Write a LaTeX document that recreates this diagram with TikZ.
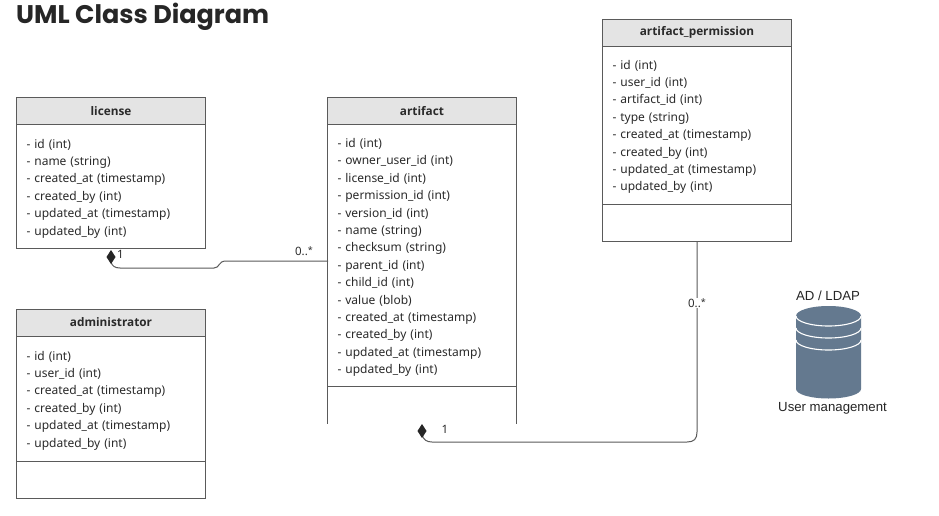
\documentclass[tikz,border=0pt]{standalone}
\usepackage{fontspec}
\setmainfont{Noto Sans}
\newfontfamily\titlefont{Poppins}
\newfontfamily\headfont{Open Sans}
\newfontfamily\arialfont{Liberation Sans}
\usetikzlibrary{arrows.meta,positioning}
\definecolor{linegray}{HTML}{5A5A5A}
\definecolor{headgray}{HTML}{E4E4E4}
\definecolor{dbblue}{HTML}{64798F}
\definecolor{inkdark}{HTML}{2A2A2A}
\newcommand{\mstar}{\raisebox{1.5pt}{\fontsize{9}{9}\selectfont *}}
\newcommand{\topstrut}{\rule{0pt}{13pt}}
\tikzset{
  x=1pt,y=-1pt,
  every node/.style={text=inkdark},
  cellbase/.style={draw=linegray,line width=0.9pt,minimum width=189pt,inner sep=0pt,outer sep=0pt},
  classhead/.style={cellbase,fill=headgray,minimum height=27pt,font=\fontsize{11.8}{15}\headfont\bfseries,anchor=north west},
  classbody/.style={cellbase,anchor=north,text width=169pt,align=left,font=\fontsize{12}{17.4}\selectfont},
  classempty/.style={cellbase,anchor=north},
  assoc/.style={draw=linegray,line width=1pt},
  comp/.style={assoc,{Diamond[length=14pt,width=9pt,fill=black!85,color=black!85]}-},
  mult/.style={font=\fontsize{11.5}{14}\selectfont,inner sep=1pt},
  dblabel/.style={font=\fontsize{13.2}{15}\arialfont,text=black!85},
}
\begin{document}
\begin{tikzpicture}
\useasboundingbox (0,0) rectangle (939,516);
\fill[white] (0,0) rectangle (939,516);

\node[anchor=west,font=\fontsize{25.5}{30}\titlefont\bfseries,text=black!85,inner sep=0pt] (title) at (16,17) {UML Class Diagram};

% license
\node[classhead] (lh) at (16.5,97.5) {license};
\node[classbody,minimum height=124pt] (lb) at (lh.south) {\topstrut- id (int)\\- name (string)\\- created\_at (timestamp)\\- created\_by (int)\\- updated\_at (timestamp)\\- updated\_by (int)};

% administrator
\node[classhead] (adh) at (16.5,309) {administrator};
\node[classbody,minimum height=125pt] (adb) at (adh.south) {\topstrut- id (int)\\- user\_id (int)\\- created\_at (timestamp)\\- created\_by (int)\\- updated\_at (timestamp)\\- updated\_by (int)};
\node[classempty,minimum height=37pt] (ade) at (adb.south) {};

% artifact
\node[classhead] (ah) at (327.5,97.5) {artifact};
\node[classbody,minimum height=262pt] (ab) at (ah.south) {\topstrut- id (int)\\- owner\_user\_id (int)\\- license\_id (int)\\- permission\_id (int)\\- version\_id (int)\\- name (string)\\- checksum (string)\\- parent\_id (int)\\- child\_id (int)\\- value (blob)\\- created\_at (timestamp)\\- created\_by (int)\\- updated\_at (timestamp)\\- updated\_by (int)};
\coordinate (aL) at (327.5,424);
\coordinate (aR) at (516.5,424);
\draw[draw=linegray,line width=0.9pt] (ab.south west) -- (aL) (ab.south east) -- (aR);

% artifact_permission
\node[classhead] (ph) at (602.5,19) {artifact\_permission};
\node[classbody,minimum height=158pt] (pb) at (ph.south) {\topstrut- id (int)\\- user\_id (int)\\- artifact\_id (int)\\- type (string)\\- created\_at (timestamp)\\- created\_by (int)\\- updated\_at (timestamp)\\- updated\_by (int)};
\node[classempty,minimum height=37pt] (pe) at (pb.south) {};

% connectors
\coordinate (licdia) at (111,250);
\coordinate (artin) at (328,261);
\draw[comp] (licdia) -- (111,262) .. controls (112,266) and (115,268) .. (120,268) -- (214,268) .. controls (220,268) and (218,261) .. (226,261) -- (artin);
\node[mult,fill=white,anchor=west] (m1) at (116,254) {1};
\node[mult,anchor=center] (m2) at (304,251) {0..\mstar};

\coordinate (artdia) at (422,424);
\coordinate (permout) at (697,241);
\draw[comp] (artdia) -- (422,434) .. controls (423,440) and (427,442) .. (432,442) -- (687,442) .. controls (694,442) and (697,439) .. (697,432) -- (permout);
\node[mult] (m3) at (445,429) {1};
\node[mult,fill=white,anchor=center] (m4) at (697,303) {0..\mstar};

% database
\fill[dbblue] (796,316) -- (796,389) arc[start angle=180,end angle=360,x radius=32.5pt,y radius=9.5pt] -- (861,316) arc[start angle=0,end angle=180,x radius=32.5pt,y radius=10pt] -- cycle;
\draw[white,line width=1.1pt] (796,316) arc[start angle=180,end angle=360,x radius=32.5pt,y radius=10pt];
\draw[white,line width=1.1pt] (796,328) arc[start angle=180,end angle=360,x radius=32.5pt,y radius=10pt];
\draw[white,line width=1.1pt] (796,340) arc[start angle=180,end angle=360,x radius=32.5pt,y radius=10pt];
\node[dblabel] (dbtop) at (828,296) {AD / LDAP};
\node[dblabel] (dbbot) at (832.5,408) {User management};
\end{tikzpicture}
\end{document}
